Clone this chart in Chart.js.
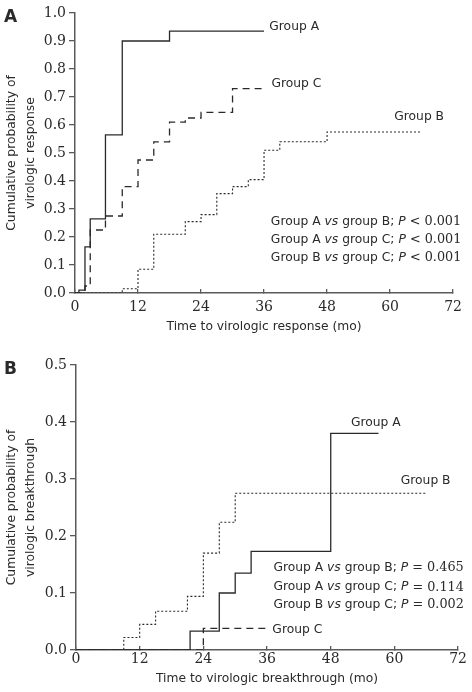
<!DOCTYPE html>
<html>
<head>
<meta charset="utf-8">
<script src="https://cdn.jsdelivr.net/npm/chart.js@4.4.0/dist/chart.umd.min.js"></script>
<style>
  body { margin: 0; background: #fff; }
  .panel { width: 472px; height: 346px; }
</style>
</head>
<body>
<div class="panel"><canvas id="chartA" width="472" height="346"></canvas></div>
<div class="panel"><canvas id="chartB" width="472" height="346"></canvas></div>
<script>
// Panel A: time to virologic response (months) / cumulative probability
const respTimesA = [0, 0.75, 1.9, 2.9, 5.8, 9, 18, 36];
const respProbA = [0, 0.01, 0.165, 0.265, 0.565, 0.9, 0.935, 0.935];
const respTimesB = [0, 9, 12, 15, 21, 24, 27, 30, 33, 36, 39, 48, 66];
const respProbB = [0, 0.015, 0.085, 0.21, 0.255, 0.28, 0.355, 0.38, 0.405, 0.51, 0.54, 0.575, 0.575];
const respTimesC = [0, 1.9, 2.9, 5.8, 9, 12, 15, 18, 21, 24, 30, 36];
const respProbC = [0, 0.025, 0.225, 0.275, 0.38, 0.475, 0.54, 0.61, 0.625, 0.645, 0.73, 0.73];

// Panel B: time to virologic breakthrough (months) / cumulative probability
const brkTimesA = [0, 21.5, 27, 30, 33, 48, 57];
const brkProbA = [0, 0.033, 0.1, 0.135, 0.173, 0.38, 0.38];
const brkTimesB = [0, 9, 12, 15, 21, 24, 27, 30, 66];
const brkProbB = [0, 0.022, 0.045, 0.068, 0.094, 0.17, 0.224, 0.275, 0.275];
const brkTimesC = [0, 24, 36];
const brkProbC = [0, 0.038, 0.038];

const xTicks = [0, 12, 24, 36, 48, 60, 72];
const statsA = [["A", "B", "< 0.001"], ["A", "C", "< 0.001"], ["B", "C", "< 0.001"]];
const statsB = [["A", "B", "= 0.465"], ["A", "C", "= 0.114"], ["B", "C", "= 0.002"]];

const SANS = "DejaVu Sans";
const SERIF = "DejaVu Serif";
const INK = "#2a2a2a";
const AXIS = "#5a5a5a";

function toPoints(xs, ys) {
  return xs.map((x, i) => ({ x: x, y: ys[i] }));
}

function curve(label, xs, ys, dash, width) {
  return {
    label: label,
    data: toPoints(xs, ys),
    stepped: "before",
    borderColor: INK,
    borderWidth: width,
    borderDash: dash,
    pointRadius: 0,
    fill: false
  };
}

// text labels and p-value block, placed in data units
const annotate = {
  id: "annotate",
  afterDraw(chart, args, opts) {
    const ctx = chart.ctx;
    const sx = chart.scales.x, sy = chart.scales.y;
    ctx.save();
    ctx.fillStyle = INK;
    ctx.textBaseline = "middle";

    ctx.font = "bold 17px " + SANS;
    ctx.fillText(opts.panel, 4, opts.panelY);

    ctx.font = "12.3px " + SANS;
    opts.labels.forEach(l => {
      ctx.fillText(l.text, sx.getPixelForValue(l.x), sy.getPixelForValue(l.y));
    });

    opts.stats.forEach((s, i) => {
      const parts = [
        ["Group " + s[0] + " ", "12.3px " + SANS],
        ["vs", "italic 12.3px " + SANS],
        [" group " + s[1] + "; ", "12.3px " + SANS],
        ["P", "italic 12.3px " + SANS],
        [" " + s[2], "12.8px " + SERIF]
      ];
      let x = sx.getPixelForValue(opts.statsX);
      const y = sy.getPixelForValue(opts.statsY[i]);
      parts.forEach(p => {
        ctx.font = p[1];
        ctx.fillText(p[0], x, y);
        x += ctx.measureText(p[0]).width;
      });
    });
    ctx.restore();
  }
};

function makeChart(id, sets, cfg) {
  return new Chart(document.getElementById(id), {
    type: "line",
    data: { datasets: sets },
    plugins: [annotate],
    options: {
      responsive: false,
      animation: false,
      layout: { padding: { top: cfg.padTop, right: cfg.padRight, bottom: 0, left: 0 } },
      plugins: {
        legend: { display: false },
        tooltip: { enabled: false },
        annotate: cfg.notes
      },
      scales: {
        x: {
          type: "linear",
          min: 0,
          max: 72,
          afterBuildTicks: s => { s.ticks = xTicks.map(v => ({ value: v })); },
          afterFit: s => { s.height = cfg.xHeight; },
          ticks: {
            color: INK,
            font: { family: SERIF, size: 14 },
            padding: cfg.xTickPad,
            maxRotation: 0
          },
          grid: { drawOnChartArea: false, drawTicks: true, tickLength: -4, color: AXIS, lineWidth: 1.3 },
          border: { color: AXIS, width: 1.5 },
          title: {
            display: true,
            text: cfg.xTitle,
            color: INK,
            font: { family: SANS, size: 12.3, lineHeight: 1.2 },
            padding: { top: 0, bottom: cfg.xTitlePad }
          }
        },
        y: {
          min: 0,
          max: cfg.yMax,
          afterFit: s => { s.width = cfg.yWidth; },
          ticks: {
            stepSize: 0.1,
            color: INK,
            font: { family: SERIF, size: 14 },
            padding: 3,
            callback: v => v.toFixed(1)
          },
          grid: { drawOnChartArea: false, drawTicks: true, tickLength: 6, color: AXIS, lineWidth: 1.3 },
          border: { color: AXIS, width: 1.5 },
          title: {
            display: true,
            text: cfg.yTitle,
            color: INK,
            font: { family: SANS, size: 12.3, lineHeight: 1.5 },
            padding: { top: 3, bottom: 0 }
          }
        }
      }
    }
  });
}

makeChart("chartA", [
  curve("Group A", respTimesA, respProbA, [], 1.3),
  curve("Group C", respTimesC, respProbC, [7, 5], 1.3),
  curve("Group B", respTimesB, respProbB, [2, 2], 1.1)
], {
  yMax: 1.0, padTop: 13, padRight: 14, xHeight: 53, yWidth: 75,
  xTickPad: 10, xTitlePad: 12,
  xTitle: "Time to virologic response (mo)",
  yTitle: ["Cumulative probability of", "virologic response"],
  notes: {
    panel: "A", panelY: 18,
    labels: [
      { text: "Group A", x: 37, y: 0.949 },
      { text: "Group C", x: 37.4, y: 0.746 },
      { text: "Group B", x: 60.8, y: 0.628 }
    ],
    stats: statsA, statsX: 37.3, statsY: [0.253, 0.189, 0.125]
  }
});

makeChart("chartB", [
  curve("Group A", brkTimesA, brkProbA, [], 1.3),
  curve("Group C", brkTimesC, brkProbC, [7, 5], 1.3),
  curve("Group B", brkTimesB, brkProbB, [2, 2], 1.1)
], {
  yMax: 0.5, padTop: 19, padRight: 13, xHeight: 42, yWidth: 76,
  xTickPad: 5, xTitlePad: 6,
  xTitle: "Time to virologic breakthrough (mo)",
  yTitle: ["Cumulative probability of", "virologic breakthrough"],
  notes: {
    panel: "B", panelY: 24,
    labels: [
      { text: "Group A", x: 51.8, y: 0.398 },
      { text: "Group B", x: 61.2, y: 0.296 },
      { text: "Group C", x: 37.0, y: 0.035 }
    ],
    stats: statsB, statsX: 37.2, statsY: [0.144, 0.110, 0.079]
  }
});
</script>
</body>
</html>
